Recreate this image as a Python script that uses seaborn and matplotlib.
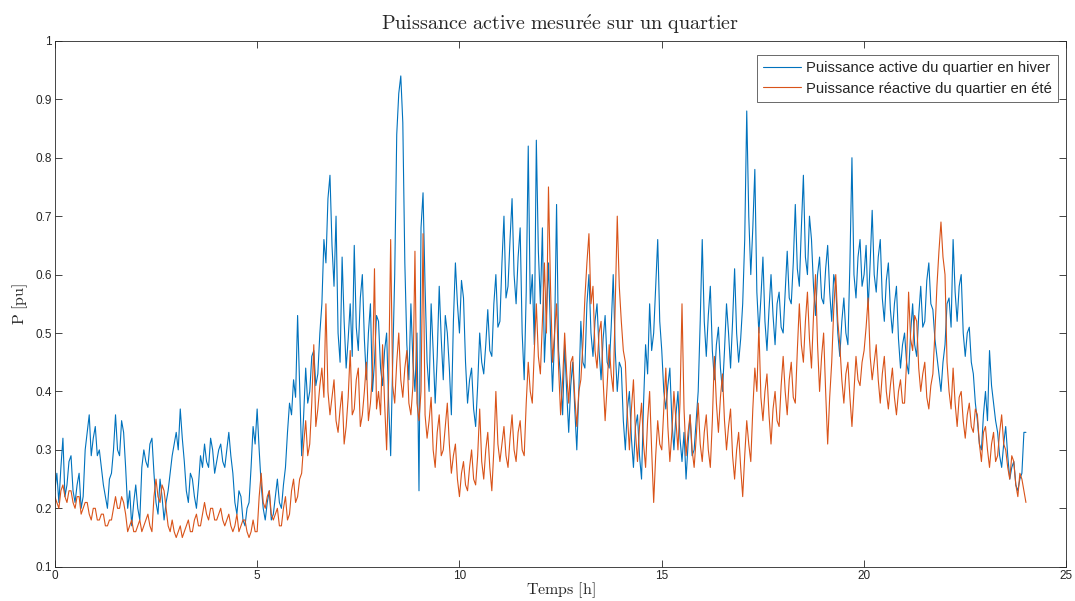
import numpy as np
import matplotlib
matplotlib.use("Agg")
import matplotlib.pyplot as plt
import seaborn as sns

# time grid [h], one sample every 3 min
temps = np.linspace(0, 24, 481)

# winter active power [pu], one row per hour
hiver = [
    0.23, 0.26, 0.21, 0.27, 0.32, 0.22, 0.24, 0.28, 0.29, 0.23, 0.21, 0.24, 0.26, 0.20, 0.22, 0.30, 0.33, 0.36, 0.29, 0.32,
    0.34, 0.29, 0.30, 0.27, 0.24, 0.22, 0.20, 0.25, 0.26, 0.30, 0.36, 0.30, 0.29, 0.35, 0.33, 0.27, 0.20, 0.23, 0.17, 0.21,
    0.24, 0.20, 0.18, 0.27, 0.30, 0.28, 0.27, 0.31, 0.32, 0.26, 0.21, 0.19, 0.25, 0.22, 0.18, 0.21, 0.23, 0.26, 0.29, 0.31,
    0.33, 0.30, 0.37, 0.32, 0.28, 0.23, 0.21, 0.26, 0.25, 0.22, 0.20, 0.24, 0.29, 0.27, 0.31, 0.28, 0.27, 0.32, 0.30, 0.26,
    0.28, 0.30, 0.31, 0.28, 0.27, 0.30, 0.33, 0.29, 0.26, 0.21, 0.19, 0.23, 0.22, 0.18, 0.17, 0.20, 0.21, 0.27, 0.34, 0.31,
    0.37, 0.30, 0.24, 0.20, 0.18, 0.21, 0.23, 0.18, 0.19, 0.22, 0.25, 0.21, 0.20, 0.24, 0.27, 0.33, 0.38, 0.36, 0.42, 0.39,
    0.53, 0.41, 0.29, 0.36, 0.44, 0.38, 0.40, 0.46, 0.47, 0.41, 0.43, 0.50, 0.55, 0.66, 0.62, 0.73, 0.77, 0.65, 0.58, 0.70,
    0.50, 0.45, 0.63, 0.52, 0.44, 0.49, 0.55, 0.46, 0.65, 0.51, 0.47, 0.56, 0.60, 0.49, 0.42, 0.50, 0.55, 0.40, 0.45, 0.53,
    0.52, 0.44, 0.41, 0.47, 0.50, 0.38, 0.29, 0.45, 0.60, 0.84, 0.91, 0.94, 0.86, 0.62, 0.48, 0.42, 0.55, 0.45, 0.40, 0.50,
    0.23, 0.68, 0.74, 0.58, 0.45, 0.40, 0.55, 0.47, 0.38, 0.46, 0.58, 0.49, 0.42, 0.53, 0.50, 0.44, 0.36, 0.52, 0.62, 0.55,
    0.50, 0.59, 0.56, 0.45, 0.38, 0.42, 0.44, 0.37, 0.34, 0.41, 0.50, 0.45, 0.43, 0.48, 0.54, 0.47, 0.46, 0.55, 0.60, 0.51,
    0.52, 0.62, 0.70, 0.56, 0.58, 0.66, 0.73, 0.60, 0.55, 0.63, 0.68, 0.50, 0.42, 0.57, 0.82, 0.55, 0.60, 0.48, 0.83, 0.64,
    0.55, 0.68, 0.45, 0.53, 0.62, 0.50, 0.40, 0.49, 0.72, 0.47, 0.42, 0.36, 0.48, 0.40, 0.33, 0.41, 0.45, 0.37, 0.30, 0.40,
    0.52, 0.45, 0.44, 0.55, 0.60, 0.50, 0.46, 0.52, 0.55, 0.47, 0.42, 0.49, 0.53, 0.45, 0.44, 0.51, 0.60, 0.47, 0.40, 0.45,
    0.44, 0.35, 0.30, 0.37, 0.40, 0.32, 0.27, 0.34, 0.36, 0.29, 0.25, 0.38, 0.48, 0.43, 0.55, 0.47, 0.50, 0.58, 0.66, 0.52,
    0.47, 0.40, 0.37, 0.41, 0.44, 0.35, 0.30, 0.36, 0.40, 0.32, 0.28, 0.33, 0.25, 0.31, 0.36, 0.29, 0.30, 0.35, 0.40, 0.52,
    0.66, 0.52, 0.46, 0.53, 0.58, 0.47, 0.42, 0.48, 0.51, 0.44, 0.40, 0.47, 0.55, 0.50, 0.44, 0.52, 0.61, 0.50, 0.45, 0.49,
    0.55, 0.66, 0.88, 0.70, 0.60, 0.68, 0.78, 0.57, 0.50, 0.56, 0.63, 0.52, 0.47, 0.54, 0.60, 0.53, 0.48, 0.55, 0.57, 0.51,
    0.50, 0.57, 0.64, 0.56, 0.55, 0.62, 0.72, 0.61, 0.58, 0.68, 0.77, 0.63, 0.60, 0.70, 0.66, 0.58, 0.53, 0.60, 0.63, 0.56,
    0.55, 0.61, 0.65, 0.57, 0.52, 0.60, 0.58, 0.50, 0.46, 0.52, 0.56, 0.50, 0.48, 0.62, 0.80, 0.60, 0.56, 0.63, 0.66, 0.58,
    0.60, 0.65, 0.54, 0.62, 0.71, 0.60, 0.57, 0.63, 0.66, 0.56, 0.52, 0.59, 0.62, 0.54, 0.50, 0.55, 0.58, 0.49, 0.44, 0.48,
    0.50, 0.45, 0.43, 0.50, 0.55, 0.48, 0.46, 0.53, 0.58, 0.51, 0.52, 0.59, 0.62, 0.55, 0.54, 0.49, 0.46, 0.43, 0.40, 0.45,
    0.48, 0.55, 0.56, 0.51, 0.66, 0.57, 0.52, 0.58, 0.60, 0.50, 0.46, 0.50, 0.51, 0.45, 0.43, 0.38, 0.35, 0.31, 0.30, 0.36,
    0.40, 0.35, 0.47, 0.41, 0.38, 0.35, 0.33, 0.29, 0.27, 0.31, 0.34, 0.29, 0.25, 0.27, 0.28, 0.24, 0.23, 0.25, 0.26, 0.33,
    0.33,
]

# summer reactive power [pu], one row per hour
ete = [
    0.22, 0.21, 0.20, 0.23, 0.24, 0.22, 0.21, 0.23, 0.23, 0.21, 0.20, 0.22, 0.22, 0.19, 0.20, 0.21, 0.21, 0.19, 0.18, 0.20,
    0.20, 0.18, 0.18, 0.19, 0.19, 0.17, 0.17, 0.18, 0.18, 0.20, 0.22, 0.20, 0.20, 0.22, 0.21, 0.19, 0.16, 0.17, 0.18, 0.16,
    0.16, 0.17, 0.18, 0.16, 0.17, 0.18, 0.19, 0.17, 0.16, 0.22, 0.25, 0.22, 0.21, 0.24, 0.23, 0.20, 0.17, 0.16, 0.18, 0.16,
    0.15, 0.16, 0.17, 0.15, 0.16, 0.17, 0.18, 0.16, 0.16, 0.18, 0.19, 0.17, 0.17, 0.19, 0.21, 0.19, 0.18, 0.20, 0.20, 0.18,
    0.18, 0.19, 0.20, 0.18, 0.17, 0.18, 0.19, 0.17, 0.16, 0.17, 0.19, 0.16, 0.17, 0.18, 0.18, 0.16, 0.15, 0.16, 0.18, 0.16,
    0.16, 0.22, 0.26, 0.21, 0.20, 0.22, 0.23, 0.19, 0.18, 0.19, 0.20, 0.17, 0.17, 0.20, 0.22, 0.18, 0.19, 0.23, 0.25, 0.21,
    0.22, 0.25, 0.26, 0.31, 0.35, 0.29, 0.31, 0.38, 0.48, 0.34, 0.37, 0.41, 0.44, 0.39, 0.55, 0.40, 0.36, 0.39, 0.42, 0.35,
    0.33, 0.37, 0.40, 0.31, 0.34, 0.39, 0.47, 0.36, 0.37, 0.42, 0.44, 0.34, 0.36, 0.40, 0.45, 0.35, 0.38, 0.43, 0.61, 0.37,
    0.40, 0.36, 0.48, 0.38, 0.30, 0.42, 0.66, 0.41, 0.38, 0.45, 0.50, 0.42, 0.39, 0.44, 0.47, 0.38, 0.36, 0.41, 0.64, 0.38,
    0.35, 0.40, 0.67, 0.36, 0.32, 0.35, 0.39, 0.30, 0.27, 0.33, 0.36, 0.29, 0.30, 0.34, 0.38, 0.31, 0.26, 0.29, 0.31, 0.25,
    0.22, 0.26, 0.28, 0.24, 0.23, 0.27, 0.30, 0.25, 0.24, 0.29, 0.37, 0.28, 0.25, 0.30, 0.33, 0.27, 0.23, 0.30, 0.40, 0.31,
    0.28, 0.31, 0.34, 0.29, 0.27, 0.32, 0.36, 0.30, 0.28, 0.33, 0.35, 0.30, 0.29, 0.38, 0.45, 0.40, 0.38, 0.47, 0.55, 0.46,
    0.43, 0.52, 0.62, 0.50, 0.75, 0.58, 0.45, 0.50, 0.55, 0.44, 0.36, 0.42, 0.50, 0.43, 0.38, 0.45, 0.46, 0.39, 0.34, 0.40,
    0.42, 0.48, 0.56, 0.62, 0.67, 0.55, 0.58, 0.47, 0.44, 0.50, 0.52, 0.42, 0.35, 0.41, 0.48, 0.43, 0.40, 0.55, 0.70, 0.58,
    0.52, 0.47, 0.45, 0.36, 0.30, 0.37, 0.42, 0.33, 0.28, 0.34, 0.38, 0.31, 0.27, 0.35, 0.40, 0.30, 0.21, 0.29, 0.35, 0.31,
    0.30, 0.37, 0.44, 0.34, 0.28, 0.33, 0.40, 0.35, 0.30, 0.38, 0.55, 0.37, 0.29, 0.33, 0.36, 0.30, 0.27, 0.32, 0.38, 0.31,
    0.28, 0.33, 0.36, 0.30, 0.27, 0.35, 0.46, 0.38, 0.33, 0.39, 0.43, 0.35, 0.30, 0.34, 0.37, 0.29, 0.25, 0.30, 0.33, 0.27,
    0.22, 0.29, 0.35, 0.31, 0.28, 0.37, 0.44, 0.40, 0.51, 0.39, 0.35, 0.40, 0.43, 0.36, 0.31, 0.37, 0.40, 0.35, 0.34, 0.41,
    0.46, 0.40, 0.36, 0.42, 0.45, 0.39, 0.38, 0.47, 0.55, 0.48, 0.45, 0.52, 0.57, 0.49, 0.44, 0.53, 0.60, 0.48, 0.40, 0.46,
    0.50, 0.40, 0.31, 0.39, 0.45, 0.54, 0.60, 0.52, 0.48, 0.42, 0.38, 0.43, 0.45, 0.39, 0.34, 0.40, 0.46, 0.42, 0.41, 0.45,
    0.47, 0.51, 0.56, 0.46, 0.42, 0.45, 0.48, 0.42, 0.38, 0.43, 0.46, 0.40, 0.37, 0.41, 0.44, 0.39, 0.36, 0.40, 0.42, 0.38,
    0.38, 0.45, 0.57, 0.49, 0.47, 0.53, 0.52, 0.44, 0.40, 0.43, 0.45, 0.39, 0.37, 0.41, 0.43, 0.50, 0.58, 0.64, 0.69, 0.63,
    0.60, 0.45, 0.40, 0.37, 0.44, 0.38, 0.34, 0.39, 0.40, 0.35, 0.32, 0.36, 0.38, 0.34, 0.33, 0.37, 0.36, 0.31, 0.28, 0.33,
    0.34, 0.30, 0.27, 0.31, 0.33, 0.28, 0.29, 0.33, 0.36, 0.31, 0.30, 0.27, 0.25, 0.29, 0.28, 0.24, 0.22, 0.26, 0.25, 0.23,
    0.21,
]

labels = ["Puissance active du quartier en hiver",
          "Puissance réactive du quartier en été"]
colors = ["#0072BD", "#D95319"]

sns.set_theme(style="white")
plt.rcParams["font.family"] = ["Liberation Sans", "DejaVu Sans"]
plt.rcParams["mathtext.fontset"] = "cm"

fig = plt.figure(figsize=(10.75, 6.01), dpi=100)
ax = fig.add_axes([0.051, 0.057, 0.941, 0.875])

sns.lineplot(x=temps, y=hiver, ax=ax, color=colors[0], linewidth=0.8,
             label=labels[0], sort=False)
sns.lineplot(x=temps, y=ete, ax=ax, color=colors[1], linewidth=0.8,
             label=labels[1], sort=False)

ax.set_xlim(0, 25)
ax.set_ylim(0.1, 1)
ax.set_xticks([0, 5, 10, 15, 20, 25])
ax.set_yticks(np.arange(0.1, 1.01, 0.1))
ax.set_yticklabels(["0.1", "0.2", "0.3", "0.4", "0.5", "0.6", "0.7",
                    "0.8", "0.9", "1"])
ax.tick_params(direction="in", length=5, width=0.6, colors="#262626",
               labelsize=8.5, pad=2, top=True, right=True, bottom=True,
               left=True, labeltop=False, labelright=False)
for s in ax.spines.values():
    s.set_visible(True)
    s.set_color("#262626")
    s.set_linewidth(0.6)

ax.set_title(r"$\mathrm{Puissance\ active\ mesur\acute{e}e\ sur\ un\ quartier}$",
             fontsize=14.5, color="#262626", pad=8)
ax.set_xlabel(r"$\mathrm{Temps\ [h]}$", fontsize=11.5, color="#262626",
              labelpad=-1)
ax.set_ylabel(r"$\mathrm{P\ [pu]}$", fontsize=11.5, color="#262626", labelpad=4)

leg = ax.legend(loc="upper right", bbox_to_anchor=(0.992, 0.973),
                borderaxespad=0, fontsize=10.7, frameon=True, fancybox=False,
                edgecolor="#262626", handlelength=2.6, handletextpad=0.35,
                borderpad=0.4, labelspacing=0.45)
leg.get_frame().set_linewidth(0.6)

fig.savefig("out.png", dpi=100)
